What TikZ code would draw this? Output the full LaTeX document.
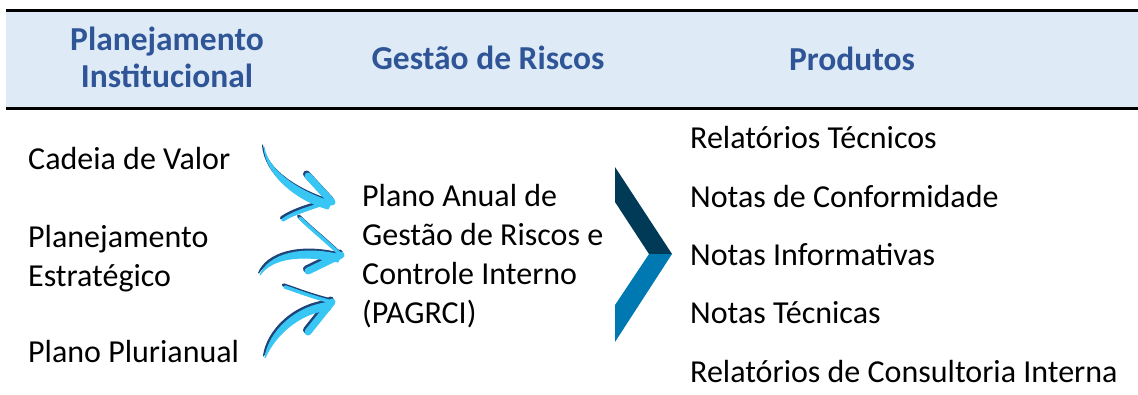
\documentclass[tikz,border=0pt]{standalone}
\usepackage{fontspec}
\setmainfont{Carlito}
\usetikzlibrary{calc,positioning}
\definecolor{bandblue}{HTML}{DEEBF7}
\definecolor{headblue}{HTML}{2F5597}
\definecolor{chevdark}{HTML}{003A57}
\definecolor{chevlight}{HTML}{0079B3}
\definecolor{brushlight}{HTML}{38C6F4}
\definecolor{brushdark}{HTML}{1F4479}
\tikzset{
  txt/.style={anchor=base west,inner sep=0pt,align=left,font=\fontsize{32}{38.7}\selectfont},
  head/.style={anchor=base,inner sep=0pt,align=center,text=headblue,font=\bfseries\fontsize{33.5}{37}\selectfont},
  shade/.style={draw=brushdark,fill=brushdark,line cap=round,line join=round,line width=1pt},
  brush/.style={draw=brushlight,fill=brushlight,line cap=round,line join=round,line width=1pt},
  thickbarb/.style={line width=7pt},
  thinbarb/.style={line width=3.5pt}
}

\begin{document}
\begin{tikzpicture}[x=1pt,y=-1pt]
\useasboundingbox (0,0) rectangle (1138,394);
\fill[bandblue] (6,10) rectangle (1138,108);
\draw[line width=3pt] (6,10) -- (1138,10);
\draw[line width=3pt] (6,108) -- (1138,108);
\node[head] (hplan) at (167,87) {Planejamento\\Institucional};
\node[head] (hrisk) at (488,69) {Gestão de Riscos};
\node[head] (hprod) at (852,70) {Produtos};

\node[txt] (cadeia) at (28,169) {Cadeia de Valor};
\node[txt] (estrat) at (28,286) {Planejamento\\Estratégico};
\node[txt] (pluri) at (28,362) {Plano Plurianual};
\node[txt] (pagrci) at (362,323) {Plano Anual de\\Gestão de Riscos e\\Controle Interno\\(PAGRCI)};

\begin{scope}[xshift=690pt]
\node[txt] (rt) at (0,148) {Relatórios Técnicos};
\node[txt] (nc) at (0,207) {Notas de Conformidade};
\node[txt] (ni) at (0,265) {Notas Informativas};
\node[txt] (nt) at (0,323) {Notas Técnicas};
\node[txt] (rci) at (0,382) {Relatórios de Consultoria Interna};
\end{scope}

\fill[chevdark] (615,167) -- (672,254) -- (649,254) -- (615,202) -- cycle;
\fill[chevlight] (672,254) -- (615,342) -- (615,305) -- (649,254) -- cycle;

\coordinate (t1) at (264,147);
\coordinate (p1) at (332,202);
\coordinate (t2) at (260,275);
\coordinate (p2) at (341,255);
\coordinate (t3) at (265,358);
\coordinate (p3) at (332,302);
\foreach \sty/\dx/\dy in {shade/-1.5/2,brush/0/0}{
  \begin{scope}[transform canvas={shift={(\dx pt,\dy pt)}}]
  \path[\sty] (t1) .. controls (268,172) and (300,192) .. (p1) -- (328,209) .. controls (298,201) and (266,176) .. cycle;
  \draw[\sty,thickbarb] (p1) -- (308,176);
  \draw[\sty,thinbarb] (p1) .. controls (310,207) and (293,213) .. (283,220);
  \path[\sty] (t2) .. controls (268,255) and (300,245) .. (p2) -- (338,262) .. controls (300,254) and (272,258) .. cycle;
  \draw[\sty,thinbarb] (p2) .. controls (325,240) and (310,228) .. (300,218);
  \draw[\sty,thickbarb] (p2) -- (308,271);
  \path[\sty] (t3) .. controls (268,333) and (295,305) .. (p3) -- (330,310) .. controls (300,312) and (275,335) .. cycle;
  \draw[\sty,thinbarb] (p3) .. controls (312,297) and (297,291) .. (285,287);
  \draw[\sty,thickbarb] (p3) -- (308,332);
  \end{scope}
}
\end{tikzpicture}
\end{document}
